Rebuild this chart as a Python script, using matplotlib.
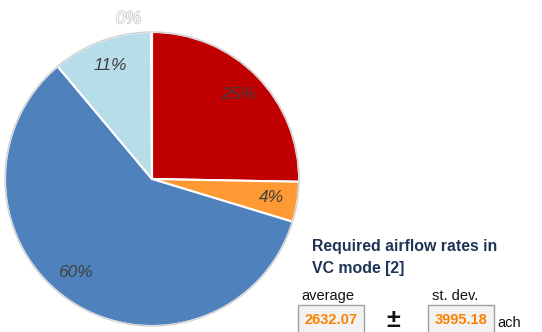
import matplotlib.pyplot as plt
import matplotlib.patheffects as pe
from matplotlib.patches import Rectangle, Circle
import numpy as np

plt.rcParams['font.family'] = ['Liberation Sans', 'DejaVu Sans']

categories = ['A', 'B', 'C', 'D', 'E']
values = [25.3, 4.4, 59.2, 11.0, 0.1]
labels = ['25%', '4%', '60%', '11%', '0%']
colors = ['#C00000', '#FF9933', '#4F81BD', '#B7DDE8', '#FFFFFF']

title_lines = ['Required airflow rates in', 'VC mode [2]']
avg_label, sd_label = 'average', 'st. dev.'
avg_value, sd_value = '2632.07', '3995.18'
unit = 'ach'

W, H = 542, 332
fig = plt.figure(figsize=(W / 100, H / 100), dpi=100)

cx, cy, r = 152, 179, 147
ax = fig.add_axes([(cx - r) / W, (H - cy - r) / H, 2 * r / W, 2 * r / H])
wedges, _ = ax.pie(values, colors=colors, startangle=90, counterclock=False,
                   wedgeprops=dict(edgecolor='white', linewidth=1.5))
for w in wedges:
    w.set_clip_on(False)
ax.add_patch(Circle((0, 0), 1.0, fill=False, edgecolor='#D0D0D0', linewidth=1.0, clip_on=False))
ax.set_xlim(-1.0, 1.0)
ax.set_ylim(-1.0, 1.0)
ax.set_aspect('equal')
ax.axis('off')

total = sum(values)
ang = 90.0
for v, lab in zip(values, labels):
    span = v / total * 360
    mid = ang - span / 2
    ang -= span
    if lab == '0%':
        ax.text(-0.16, 1.09, lab, ha='center', va='center', fontsize=12.5,
                style='italic', color='white', clip_on=False,
                path_effects=[pe.withStroke(linewidth=1.2, foreground='#CCCCCC')])
        continue
    # labels in the reference sit slightly off the wedge middle for the big slice
    if v > 50:
        mid -= 6
    d = 0.82
    m = np.deg2rad(mid)
    ax.text(d * np.cos(m), d * np.sin(m), lab, ha='center', va='center',
            fontsize=12.5, style='italic', color='#404040')

def fx(x):
    return x / W

def fy(y):
    return 1 - y / H

fig.text(fx(312), fy(247), title_lines[0], fontsize=11.4, fontweight='bold',
         color='#1F3555', ha='left', va='center')
fig.text(fx(312), fy(268), title_lines[1], fontsize=11.4, fontweight='bold',
         color='#1F3555', ha='left', va='center')
fig.text(fx(301), fy(296), avg_label, fontsize=10.5, color='#111111', ha='left', va='center')
fig.text(fx(432), fy(296), sd_label, fontsize=10.5, color='#111111', ha='left', va='center')

for x0, val in [(298, avg_value), (428, sd_value)]:
    fig.add_artist(Rectangle((fx(x0), fy(340)), fx(66), (340 - 305) / H,
                             transform=fig.transFigure, facecolor='#F2F2F2',
                             edgecolor='#A0A0A0', linewidth=1.0))
    fig.text(fx(x0 + 33), fy(320), val, fontsize=10.5, fontweight='bold',
             color='#FF8000', ha='center', va='center')

fig.text(fx(393), fy(320), '±', fontsize=18, fontweight='bold', color='#111111',
         ha='center', va='center')
fig.text(fx(497), fy(323), unit, fontsize=10.5, color='#111111', ha='left', va='center')

fig.savefig('out.png', dpi=100)
